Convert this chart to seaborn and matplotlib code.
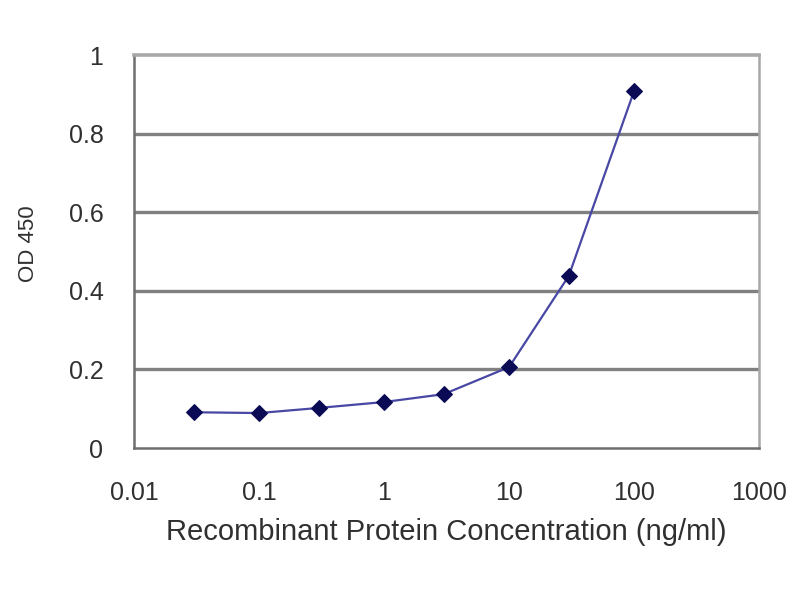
import matplotlib
matplotlib.use("Agg")
import matplotlib.pyplot as plt
import seaborn as sns
import pandas as pd

concentration = [0.03, 0.1, 0.3, 1, 3, 10, 30, 100]
od450 = [0.091, 0.089, 0.102, 0.117, 0.137, 0.206, 0.438, 0.909]
x_ticks = [0.01, 0.1, 1, 10, 100, 1000]
x_tick_labels = ["0.01", "0.1", "1", "10", "100", "1000"]
y_ticks = [0, 0.2, 0.4, 0.6, 0.8, 1]
y_tick_labels = ["0", "0.2", "0.4", "0.6", "0.8", "1"]

df = pd.DataFrame({"conc": concentration, "od": od450})

sns.set_style("white")
plt.rcParams["font.family"] = ["Liberation Sans", "DejaVu Sans"]
FONT = ["Liberation Sans", "DejaVu Sans"]

fig = plt.figure(figsize=(8, 6), dpi=100)
ax = fig.add_axes([0.1675, 0.2533, 0.7815, 0.655])

sns.lineplot(data=df, x="conc", y="od", ax=ax, color="#4848a4", linewidth=1.6,
             marker="D", markersize=8.5, markerfacecolor="#0a0a55",
             markeredgecolor="#0a0a55", zorder=3)

ax.set_xscale("log")
ax.set_xlim(0.01, 1000)
ax.set_ylim(0, 1)
ax.set_xticks(x_ticks)
ax.set_xticklabels(x_tick_labels, family=FONT)
ax.set_yticks(y_ticks)
ax.set_yticklabels(y_tick_labels, family=FONT)
ax.minorticks_off()

for y in y_ticks[1:-1]:
    ax.axhline(y, color="#808080", linewidth=2.4, zorder=1)

for s in ax.spines.values():
    s.set_color("#6e6e6e")
    s.set_linewidth(1.8)
ax.spines["top"].set_color("#a8a8a8")
ax.spines["top"].set_linewidth(2.6)
ax.spines["right"].set_color("#a8a8a8")

ax.tick_params(axis="x", direction="in", length=4, color="#707070", width=1.5,
               labelsize=18, labelcolor="#303030", pad=24)
ax.tick_params(axis="y", length=0, labelsize=18, labelcolor="#303030", pad=22)

ax.set_xlabel("Recombinant Protein Concentration (ng/ml)", fontsize=21,
              color="#303030", labelpad=9, family=FONT)
ax.set_ylabel("OD 450", fontsize=16, color="#303030", family=FONT)
ax.yaxis.set_label_coords(-0.152, 0.52)

fig.savefig("out.png", dpi=100)
